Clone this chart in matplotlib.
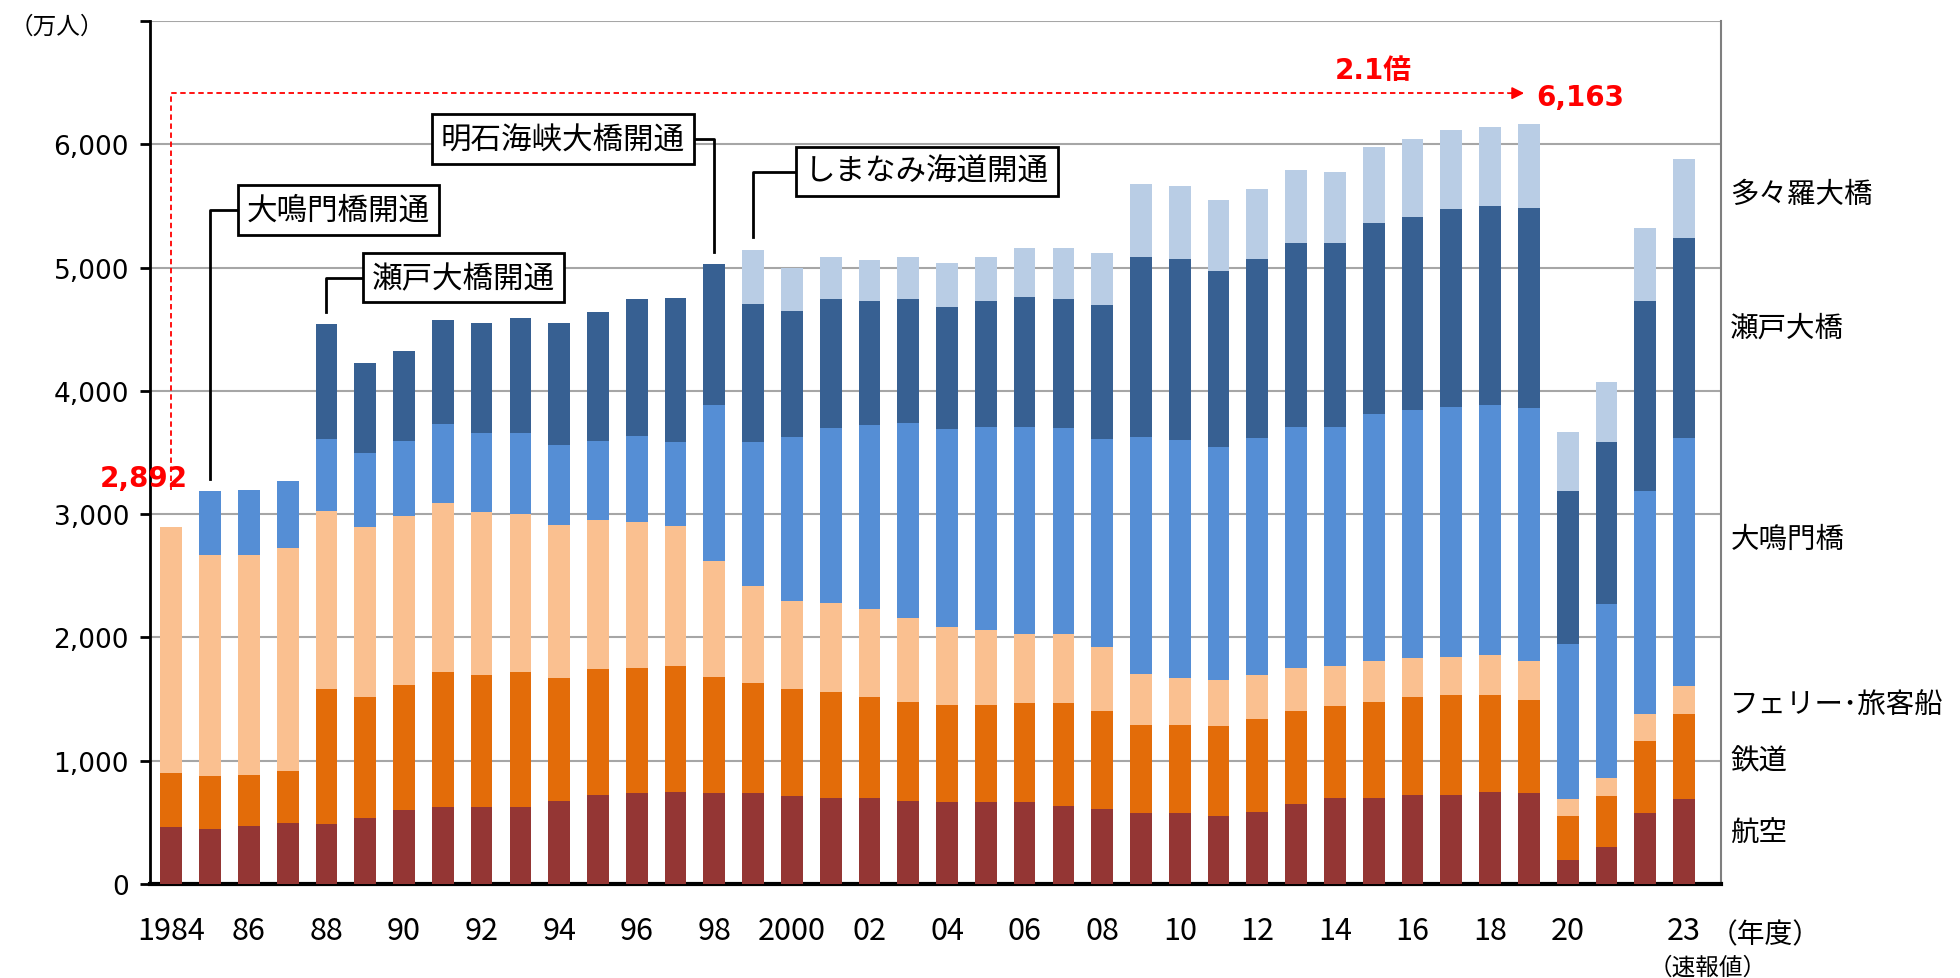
import matplotlib.pyplot as plt
import numpy as np

plt.rcParams['font.family'] = ['Noto Sans CJK JP', 'DejaVu Sans']

years = list(range(1984, 2024))
tick_labels = ['1984', '', '86', '', '88', '', '90', '', '92', '', '94', '', '96', '', '98', '',
               '2000', '', '02', '', '04', '', '06', '', '08', '', '10', '', '12', '', '14', '',
               '16', '', '18', '', '20', '', '', '23']

# 万人, per mode (stack order bottom -> top)
air = [460, 446, 473, 497, 484, 535, 597, 622, 622, 622, 673, 724, 735, 749, 735, 735, 711, 697, 697, 673,
       662, 662, 662, 635, 611, 573, 573, 549, 586, 649, 697, 697, 724, 724, 749, 735, 197, 297, 573, 686]
rail = [440, 427, 413, 417, 1094, 979, 1019, 1094, 1070, 1094, 995, 1017, 1019, 1019, 943, 892, 867, 857, 819, 805,
        792, 792, 803, 830, 792, 716, 716, 729, 755, 754, 744, 781, 792, 806, 781, 754, 352, 414, 589, 692]
ferry = [1992, 1797, 1784, 1808, 1446, 1383, 1370, 1373, 1322, 1284, 1243, 1208, 1184, 1132, 944, 792, 717, 727, 716, 679,
         627, 603, 567, 567, 516, 416, 379, 376, 351, 351, 327, 327, 314, 313, 324, 316, 137, 151, 214, 225]
onaruto = [0, 519, 530, 543, 583, 596, 607, 645, 647, 661, 649, 644, 696, 685, 1267, 1169, 1328, 1418, 1492, 1580,
           1607, 1653, 1678, 1667, 1693, 1918, 1931, 1893, 1928, 1956, 1942, 2005, 2018, 2029, 2029, 2054, 1257, 1408, 1813, 2017]
seto = [0, 0, 0, 0, 933, 732, 733, 844, 893, 931, 994, 1050, 1109, 1172, 1144, 1119, 1022, 1046, 1008, 1008,
        995, 1022, 1049, 1046, 1082, 1461, 1474, 1425, 1452, 1487, 1487, 1552, 1566, 1602, 1618, 1628, 1248, 1312, 1541, 1617]
tatara = [0, 0, 0, 0, 0, 0, 0, 0, 0, 0, 0, 0, 0, 0, 0, 439, 352, 339, 328, 339,
          352, 352, 401, 415, 428, 591, 591, 579, 567, 594, 580, 619, 629, 645, 643, 676, 478, 494, 594, 641]

series = [('航空', air, '#943634'), ('鉄道', rail, '#E36C09'), ('フェリー･旅客船', ferry, '#FAC090'),
          ('大鳴門橋', onaruto, '#558ED5'), ('瀬戸大橋', seto, '#376092'), ('多々羅大橋', tatara, '#B9CDE5')]

fig = plt.figure(figsize=(19.6, 9.79), dpi=100)
ax = fig.add_axes([0.0765, 0.096, 0.8015, 0.8815])

x = np.arange(len(years))
bottom = np.zeros(len(years))
label_y = {'航空': 420, '鉄道': 1000, 'フェリー･旅客船': 1460, '大鳴門橋': 2800, '瀬戸大橋': 4510, '多々羅大橋': 5600}
for name, vals, col in series:
    ax.bar(x, vals, 0.56, bottom=bottom, color=col, zorder=3)
    bottom += np.array(vals)
    ax.text(1.006, label_y[name], name, transform=ax.get_yaxis_transform(), fontsize=20.5, va='center', ha='left')

ax.set_xlim(-0.55, 39.95)
ax.set_ylim(0, 7000)
ax.set_yticks(range(0, 7001, 1000))
ax.set_yticklabels(['0', '1,000', '2,000', '3,000', '4,000', '5,000', '6,000', ''],
                   fontsize=19, family='DejaVu Sans')
ax.set_xticks(x)
ax.set_xticklabels(tick_labels, fontsize=22)
ax.tick_params(axis='x', length=0, pad=22)
ax.tick_params(axis='y', length=7, width=2, direction='out', pad=8)
ax.grid(axis='y', color='#a6a6a6', linewidth=1.5, zorder=0)
ax.spines['top'].set_visible(False)
ax.spines['left'].set_linewidth(2)
ax.spines['bottom'].set_linewidth(3)
ax.spines['right'].set_color('#7f7f7f')
ax.spines['right'].set_linewidth(1.5)

fig.text(0.005, 0.972, '（万人）', fontsize=17, ha='left', va='center')
ax.text(0.993, -0.058, '（年度）', transform=ax.transAxes, fontsize=20, ha='left', va='center')
ax.text(39.6, -0.097, '（速報値）', transform=ax.get_xaxis_transform(), fontsize=17, ha='center', va='center')

# red growth marker 1984 -> 2019
red = '#ff0000'
bold_font = ['DejaVu Sans', 'Noto Sans CJK JP']
total84 = sum(v[0] for _, v, _ in series)
total19 = sum(v[35] for _, v, _ in series)
ax.plot([0, 0, 34.45], [total84 + 300, 6415, 6415], color=red, linestyle=(0, (3, 2)), linewidth=1.3, zorder=4)
ax.annotate('', xy=(34.95, 6415), xytext=(34.4, 6415),
            arrowprops=dict(arrowstyle='-|>', color=red, lw=1.3, mutation_scale=18))
ax.text(-0.7, 3290, f'{total84:,}', color=red, fontsize=20, fontweight='bold', family=bold_font,
        ha='center', va='center')
ax.text(35.2, 6380, f'{total19:,}', color=red, fontsize=20, fontweight='bold', family=bold_font,
        ha='left', va='center')
ax.text(31.0, 6600, '2.1倍', color=red, fontsize=20, fontweight='bold', family=bold_font,
        ha='center', va='center')

# opening annotations
box = dict(boxstyle='square,pad=0.3', facecolor='white', edgecolor='black', linewidth=2)
tops = bottom


def callout(i, text, tx, ty, hx):
    ax.plot([i, i, hx], [tops[i] + 100, ty, ty], color='black', linewidth=2, zorder=5)
    ax.text(tx, ty, text, fontsize=22, ha='left', va='center', bbox=box, zorder=6)


callout(1, '大鳴門橋開通', 1.95, 5468, 1.75)
callout(4, '瀬戸大橋開通', 5.17, 4918, 4.95)
callout(15, 'しまなみ海道開通', 16.33, 5779, 16.1)
# 明石: leader comes from the box's right side
ax.plot([14, 14, 13.5], [tops[14] + 90, 6044, 6044], color='black', linewidth=2, zorder=5)
ax.text(13.24, 6044, '明石海峡大橋開通', fontsize=22, ha='right', va='center', bbox=box, zorder=6)

fig.savefig('out.png', dpi=100)
